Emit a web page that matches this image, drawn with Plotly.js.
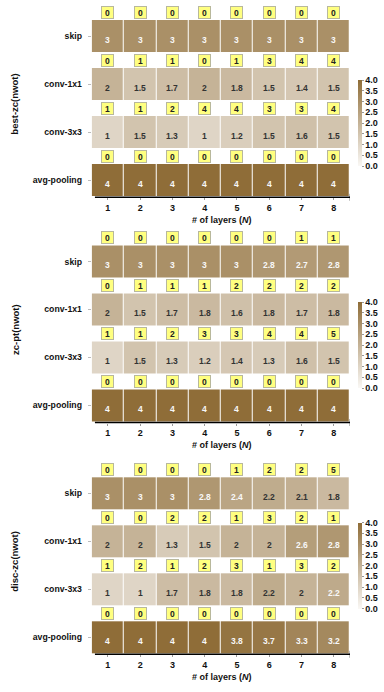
<!DOCTYPE html>
<html><head><meta charset="utf-8">
<script src="https://cdn.plot.ly/plotly-3.0.1.min.js"></script>
<style>html,body{margin:0;padding:0;background:#fff}#chart{width:384px;height:692px}</style>
</head><body><div id="chart"></div>
<script>
// ---------- data ----------
const layers = [1, 2, 3, 4, 5, 6, 7, 8];
const layerLabels = ['1', '2', '3', '4', '5', '6', '7', '8'];
const operations = ['skip', 'conv-1x1', 'conv-3x3', 'avg-pooling'];
const methods = ['best-zc(nwot)', 'zc-pt(nwot)', 'disc-zc(nwot)'];

// best-zc(nwot): mean value per cell
const bestSkip  = [3, 3, 3, 3, 3, 3, 3, 3];
const bestConv1 = [2, 1.5, 1.7, 2, 1.8, 1.5, 1.4, 1.5];
const bestConv3 = [1, 1.5, 1.3, 1, 1.2, 1.5, 1.6, 1.5];
const bestPool  = [4, 4, 4, 4, 4, 4, 4, 4];
// best-zc(nwot): counts (yellow boxes)
const bestSkipCnt  = [0, 0, 0, 0, 0, 0, 0, 0];
const bestConv1Cnt = [0, 1, 1, 0, 1, 3, 4, 4];
const bestConv3Cnt = [1, 1, 2, 4, 4, 3, 3, 4];
const bestPoolCnt  = [0, 0, 0, 0, 0, 0, 0, 0];

// zc-pt(nwot)
const ptSkip  = [3, 3, 3, 3, 3, 2.8, 2.7, 2.8];
const ptConv1 = [2, 1.5, 1.7, 1.8, 1.6, 1.8, 1.7, 1.8];
const ptConv3 = [1, 1.5, 1.3, 1.2, 1.4, 1.3, 1.6, 1.5];
const ptPool  = [4, 4, 4, 4, 4, 4, 4, 4];
const ptSkipCnt  = [0, 0, 0, 0, 0, 0, 1, 1];
const ptConv1Cnt = [0, 1, 1, 1, 2, 2, 2, 2];
const ptConv3Cnt = [1, 1, 2, 3, 3, 4, 4, 5];
const ptPoolCnt  = [0, 0, 0, 0, 0, 0, 0, 0];

// disc-zc(nwot)
const discSkip  = [3, 3, 3, 2.8, 2.4, 2.2, 2.1, 1.8];
const discConv1 = [2, 2, 1.3, 1.5, 2, 2, 2.6, 2.8];
const discConv3 = [1, 1, 1.7, 1.8, 1.8, 2.2, 2, 2.25];
const discPool  = [4, 4, 4, 4, 3.8, 3.7, 3.3, 3.2];
const discSkipCnt  = [0, 0, 0, 0, 1, 2, 2, 5];
const discConv1Cnt = [0, 0, 2, 2, 1, 3, 2, 1];
const discConv3Cnt = [1, 2, 1, 2, 3, 1, 3, 2];
const discPoolCnt  = [0, 0, 0, 0, 0, 0, 0, 0];

const colorbarTicks = [0, 0.5, 1, 1.5, 2, 2.5, 3, 3.5, 4];

// ---------- assembly ----------
const panels = [
  {vals: [bestSkip, bestConv1, bestConv3, bestPool], cnts: [bestSkipCnt, bestConv1Cnt, bestConv3Cnt, bestPoolCnt]},
  {vals: [ptSkip, ptConv1, ptConv3, ptPool], cnts: [ptSkipCnt, ptConv1Cnt, ptConv3Cnt, ptPoolCnt]},
  {vals: [discSkip, discConv1, discConv3, discPool], cnts: [discSkipCnt, discConv1Cnt, discConv3Cnt, discPoolCnt]}
];

const W = 384, H = 692;
const FONT = 'Liberation Sans, Arial, Helvetica, sans-serif';
// panel plot-area pixel bounds (top, bottom)
const panelPx = [[12, 197.3], [237.5, 422.5], [469.3, 654.3]];
const cbarPx = [123, 345, 565.5];
const xDomain = [91.7 / W, 350 / W];
const rowY = [3, 2, 1, 0];

function fmt(v) {
  let r = v * 10;
  const f = Math.floor(r);
  if (Math.abs(r - f - 0.5) < 1e-9) r = (f % 2 === 0) ? f : f + 1; else r = Math.round(r);
  const s = (r / 10).toFixed(1);
  return s.endsWith('.0') ? s.slice(0, -2) : s;
}

const data = [];
const annotations = [];
const shapes = [];
const layout = {
  width: W, height: H,
  margin: {l: 0, r: 0, t: 0, b: 0, autoexpand: false},
  paper_bgcolor: '#fff', plot_bgcolor: '#fff',
  showlegend: false,
  font: {family: FONT, size: 9, color: '#000'}
};

panels.forEach((p, i) => {
  const sfx = i === 0 ? '' : String(i + 1);
  const xa = 'x' + sfx, ya = 'y' + sfx;
  const top = panelPx[i][0], bot = panelPx[i][1];
  data.push({
    type: 'heatmap',
    x: layers, y: rowY, z: p.vals,
    xaxis: xa, yaxis: ya,
    zmin: 0, zmax: 4,
    colorscale: [[0, '#FAF8F5'], [1, '#8F6D38']],
    xgap: 1, ygap: 16,
    hoverinfo: 'skip',
    showscale: true,
    colorbar: {
      x: 358 / W, xanchor: 'left', xpad: 0,
      y: 1 - cbarPx[i] / H, yanchor: 'middle', ypad: 0,
      len: 86, lenmode: 'pixels', thickness: 4,
      outlinewidth: 0,
      tickvals: colorbarTicks, tickformat: '.1f',
      ticks: 'outside', ticklen: 2, tickcolor: '#999', tickwidth: 1,
      tickfont: {family: FONT, size: 9, weight: 'bold', color: '#111'}
    }
  });
  layout['xaxis' + sfx] = {
    domain: xDomain, anchor: ya, range: [0.5, 8.5],
    tickvals: layers, ticktext: layerLabels,
    ticks: 'outside', ticklen: 2, tickcolor: '#999',
    showline: false, showgrid: false, zeroline: false, fixedrange: true,
    tickfont: {family: FONT, size: 9, weight: 'bold', color: '#111'}
  };
  layout['yaxis' + sfx] = {
    domain: [1 - bot / H, 1 - top / H], anchor: xa, range: [-0.36, 3.5],
    tickvals: rowY, ticktext: operations,
    ticks: 'outside', ticklen: 3, tickcolor: '#bbb', ticklabelstandoff: 4,
    showline: false, showgrid: false, zeroline: false, fixedrange: true,
    tickfont: {family: FONT, size: 8.7, weight: 'bold', color: '#111'}
  };
  // cell values + counts
  p.vals.forEach((row, r) => {
    row.forEach((v, c) => {
      annotations.push({
        xref: xa, yref: ya, x: layers[c], y: rowY[r], yshift: -3.5,
        text: fmt(v), showarrow: false,
        font: {family: FONT, size: 8.5, weight: 'bold', color: v > 2.23 ? '#F8F8F8' : '#333'}
      });
      annotations.push({
        xref: xa, yref: ya, x: layers[c], y: rowY[r] + 0.5,
        text: String(p.cnts[r][c]), showarrow: false,
        bgcolor: '#FFFF80', bordercolor: '#B8B89C', borderwidth: 1, borderpad: 1,
        width: 9, height: 9,
        font: {family: FONT, size: 8.5, weight: 'bold', color: '#222'}
      });
    });
  });
  // arrow axis line (shaft + head)
  shapes.push({
    type: 'line', xref: xa, yref: ya + ' domain',
    x0: 0.6, x1: 8.55, y0: 0, y1: 0,
    line: {color: '#000', width: 1.6}
  });
  shapes.push({
    type: 'path', xref: xa, yref: ya + ' domain',
    xsizemode: 'pixel', xanchor: 8.5, ysizemode: 'pixel', yanchor: 0,
    path: 'M 0 -3.5 L 9 0 L 0 3.5 Z',
    fillcolor: '#000', line: {color: '#000', width: 0.5}
  });
  // x title
  annotations.push({
    xref: 'paper', yref: 'paper', x: 222 / W, y: 1 - (bot + 22.5) / H,
    xanchor: 'center', yanchor: 'middle', showarrow: false,
    text: '# of layers (<i>N</i>)',
    font: {family: FONT, size: 9, weight: 'bold', color: '#111'}
  });
  // y title
  annotations.push({
    xref: 'paper', yref: 'paper', x: 15 / W, y: 1 - (top + bot) / 2 / H,
    xanchor: 'center', yanchor: 'middle', showarrow: false, textangle: -90,
    text: methods[i],
    font: {family: FONT, size: 9.5, weight: 'bold', color: '#111'}
  });
});
layout.annotations = annotations;
layout.shapes = shapes;

Plotly.newPlot('chart', data, layout, {staticPlot: true, displayModeBar: false});
</script>
</body></html>
